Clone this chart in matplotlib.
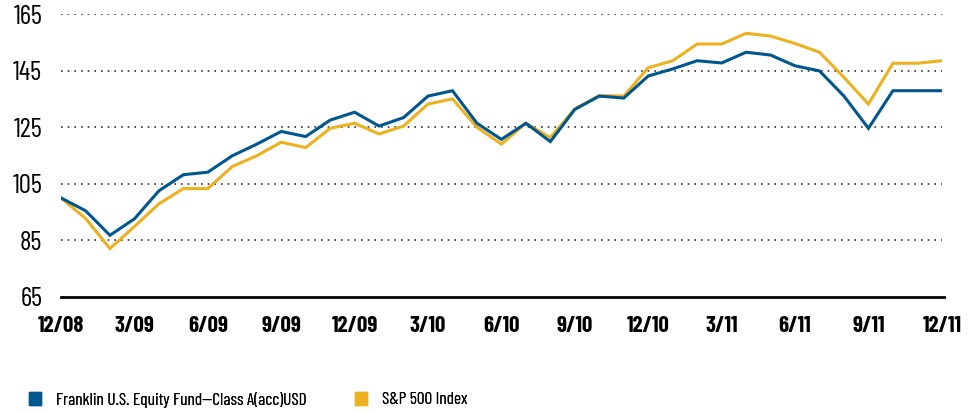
import matplotlib
matplotlib.use("Agg")
import matplotlib.pyplot as plt
from matplotlib.patches import Patch

plt.rcParams['font.family'] = ['Barlow Condensed', 'Liberation Sans', 'DejaVu Sans']

# monthly values, 12/08 .. 12/11
fund = [100, 95.5, 86.8, 92.6, 102.5, 108.2, 109.1, 114.9, 119.0, 123.5, 121.7, 127.5,
        130.3, 125.4, 128.4, 136.0, 137.9, 126.4, 120.7, 126.4, 119.9, 131.3, 136.0, 135.3,
        143.1, 145.6, 148.5, 147.7, 151.5, 150.5, 146.7, 144.9, 136.0, 124.6, 137.9, 137.9, 137.9]
sp500 = [100, 92.8, 82.1, 89.9, 97.9, 103.3, 103.3, 111.1, 114.9, 119.7, 117.8, 124.6,
         126.4, 122.6, 125.4, 133.2, 135.0, 125.0, 119.0, 126.4, 121.3, 131.5, 136.2, 136.0,
         146.0, 148.5, 154.4, 154.4, 158.2, 157.2, 154.6, 151.5, 142.6, 133.2, 147.6, 147.6, 148.5]
xlabels = ['12/08', '3/09', '6/09', '9/09', '12/09', '3/10', '6/10', '9/10',
           '12/10', '3/11', '6/11', '9/11', '12/11']
yticks = [65, 85, 105, 125, 145, 165]
names = ['Franklin U.S. Equity Fund\u2014Class A(acc)USD', 'S&P 500 Index']

blue = '#00578F'
gold = '#EDB120'

fig = plt.figure(figsize=(9.76, 4.13), dpi=100)
ax = fig.add_axes([0.0625, 0.281, 0.9025, 0.685])

x = list(range(len(fund)))
ax.plot(x, sp500, color=gold, lw=2.2, solid_joinstyle='miter')
ax.plot(x, fund, color=blue, lw=2.2, solid_joinstyle='miter')

ax.set_xlim(0, 36)
ax.set_ylim(65, 165)
ax.set_xticks(range(0, 37, 3))
ax.set_xticklabels(xlabels, fontsize=16.5, fontweight='bold')
ax.set_yticks(yticks)
ax.set_yticklabels([str(v) for v in yticks], fontsize=19.5)
ax.tick_params(axis='both', length=0)
ax.tick_params(axis='x', pad=14)
ax.tick_params(axis='y', pad=13.5)

for v in yticks[1:]:
    ax.axhline(v, color='#333333', lw=1.2, ls=(0, (1, 3)), zorder=0)

for s in ['top', 'right', 'left']:
    ax.spines[s].set_visible(False)
ax.spines['bottom'].set_linewidth(2)
ax.spines['bottom'].set_color('black')
ax.spines['bottom'].set_bounds(0, 36.1)

# one legend per entry so each sits where the reference has it
for col, name, x0 in [(blue, names[0], 0.0297), (gold, names[1], 0.3637)]:
    leg = fig.legend([Patch(color=col)], [name], loc='center left',
                     bbox_to_anchor=(x0, 0.032), frameon=False, fontsize=12.5,
                     handlelength=0.69, handleheight=0.75, handletextpad=0.86,
                     borderaxespad=0, borderpad=0)
    fig.add_artist(leg)

fig.savefig('out.png', dpi=100)
